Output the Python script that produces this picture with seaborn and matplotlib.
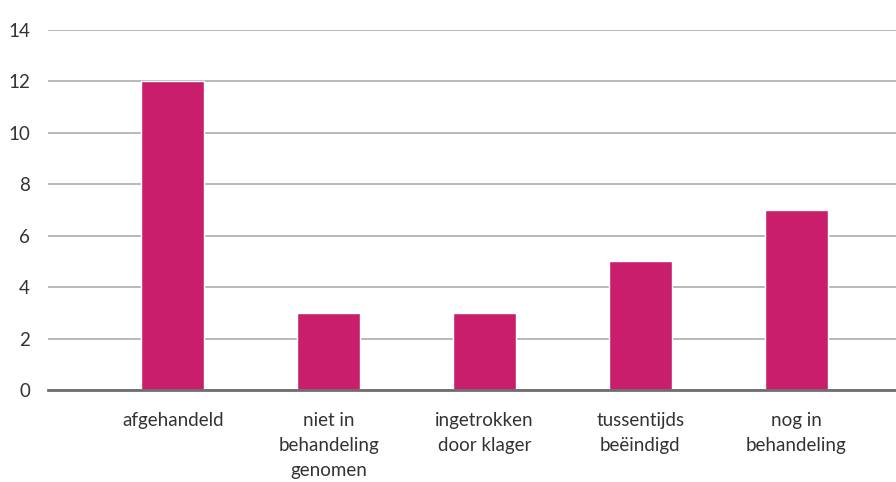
import matplotlib
matplotlib.use("Agg")
import matplotlib.pyplot as plt
import seaborn as sns
import pandas as pd

categories = ["afgehandeld", "niet in\nbehandeling\ngenomen", "ingetrokken\ndoor klager",
              "tussentijds\nbeëindigd", "nog in\nbehandeling"]
values = [12, 3, 3, 5, 7]
yticks = [0, 2, 4, 6, 8, 10, 12, 14]

sns.set_theme(style="white")
plt.rcParams['font.family'] = ['Lato', 'DejaVu Sans']

df = pd.DataFrame({"cat": categories, "val": values})

fig = plt.figure(figsize=(8.96, 4.82), dpi=100)
ax = fig.add_axes([48/896, 92/482, 848/896, 360/482])
sns.barplot(data=df, x="cat", y="val", color="#C81E6B", saturation=1, width=0.404, ax=ax)

ax.set_xlim(-0.80, 4.64)
ax.set_ylim(0, 14)
ax.set_yticks(yticks)
ax.yaxis.grid(True, color="#A6A6A6", linewidth=1.1)
ax.set_axisbelow(True)
for s in ["top", "right", "left"]:
    ax.spines[s].set_visible(False)
ax.spines["bottom"].set_color("#6E6E6E")
ax.spines["bottom"].set_linewidth(2)
ax.tick_params(axis="y", length=0, pad=13, labelsize=13.5, labelcolor="#333333")
ax.tick_params(axis="x", length=0, pad=16, labelsize=13.5, labelcolor="#333333")
for t in ax.get_xticklabels():
    t.set_linespacing(1.55)
ax.set_xlabel("")
ax.set_ylabel("")

fig.savefig("out.png", dpi=100)
